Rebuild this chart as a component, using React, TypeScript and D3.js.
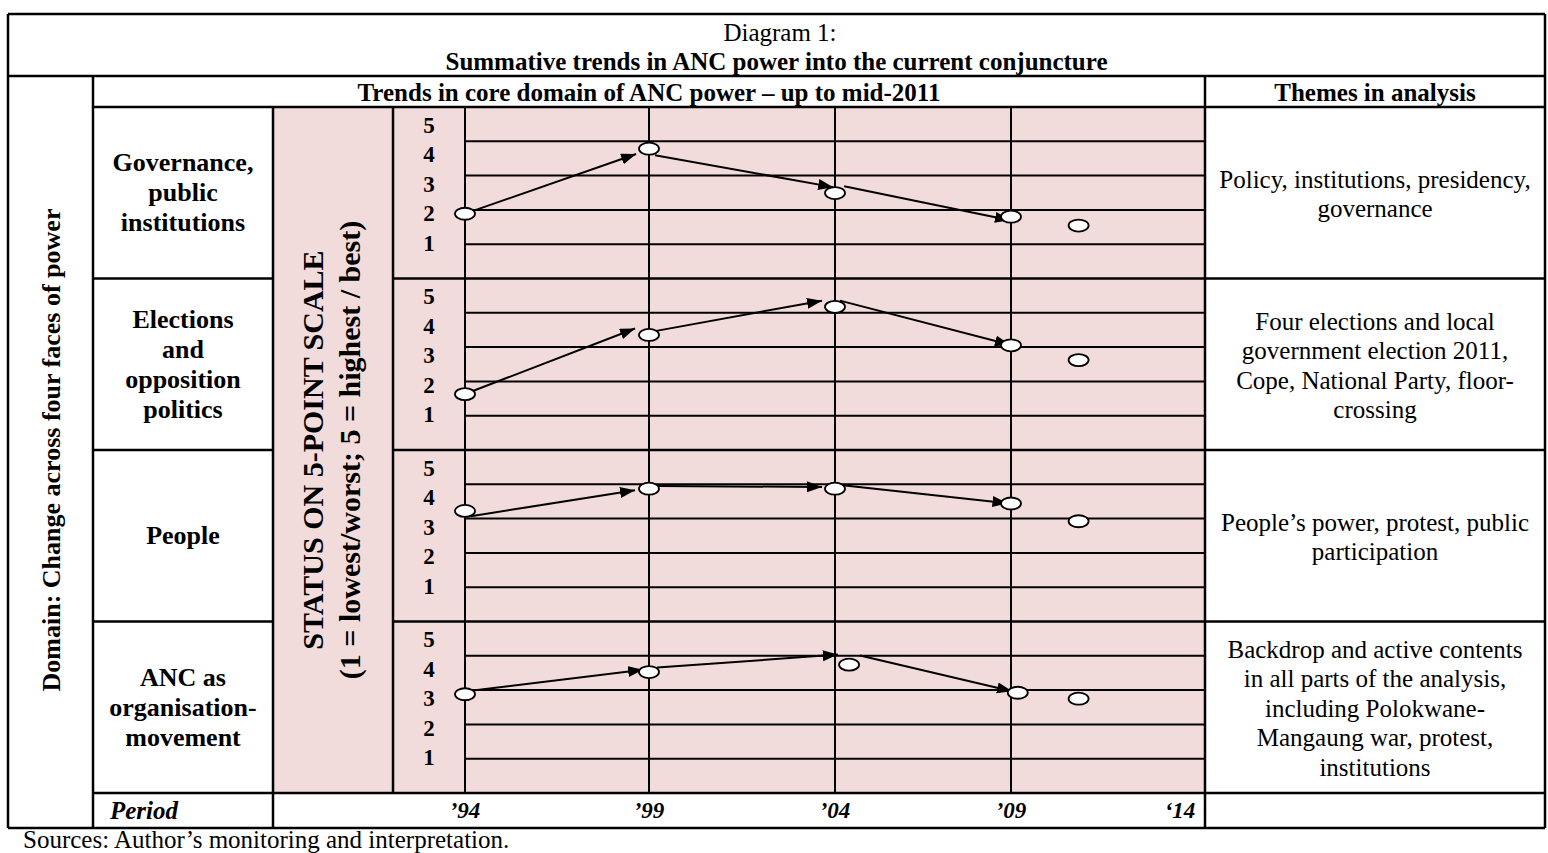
import * as d3 from "d3";

// row labels (left) and the themes column (right)
const categories = ["Governance", "Elections", "People", "ANC"];
const categoryLines = [
  ["Governance,", "public", "institutions"],
  ["Elections", "and", "opposition", "politics"],
  ["People"],
  ["ANC as", "organisation-", "movement"],
];
const themeLines = [
  ["Policy, institutions, presidency,", "governance"],
  ["Four elections and local", "government election 2011,", "Cope, National Party, floor-", "crossing"],
  ["People’s power, protest, public", "participation"],
  [
    "Backdrop and active contents",
    "in all parts of the analysis,",
    "including Polokwane-",
    "Mangaung war, protest,",
    "institutions",
  ],
];

const periodYears = [1994, 1999, 2004, 2009, 2014];
const periodLabels = ["’94", "’99", "’04", "’09", "‘14"];
const scaleTicks = [5, 4, 3, 2, 1];

// status points (year, score on 5-point scale)
const pointYears = [1994, 1999, 2004, 2009, 2011];
const ancPointYears = [1994, 1999, 2004.4, 2009.2, 2011];
const governanceScores = [2.0, 4.2, 2.7, 1.9, 1.6];
const electionScores = [1.7, 3.7, 4.65, 3.35, 2.85];
const peopleScores = [3.55, 4.3, 4.3, 3.8, 3.2];
const ancScores = [3.15, 3.9, 4.15, 3.2, 3.0];

// trend arrows: [fromYear, fromScore, toYear, toScore]
const governanceArrows = [
  [1994.18, 2.08, 1998.65, 4.02],
  [1999.16, 3.98, 2003.95, 2.9],
  [2004.26, 2.93, 2008.97, 1.78],
];
const electionArrows = [
  [1994.16, 1.78, 1998.62, 3.92],
  [1999.16, 3.83, 2003.65, 4.86],
  [2004.14, 4.86, 2008.97, 3.37],
];
const peopleArrows = [
  [1994.16, 3.37, 1998.62, 4.25],
  [1999.22, 4.39, 2003.65, 4.36],
  [2004.22, 4.42, 2008.9, 3.81],
];
const ancArrows = [
  [1994.16, 3.27, 1998.84, 3.98],
  [1999.22, 4.05, 2004.08, 4.49],
  [2004.71, 4.46, 2009.03, 3.25],
];

const FONT = "'Liberation Serif', 'Times New Roman', serif";
const PINK = "#f2dcdb";

function App() {
  const width = 1548;
  const height = 853;

  const left = 8;
  const right = 1545;
  const top = 14;
  const titleBottom = 76;
  const headBottom = 107;
  const plotBottom = 793;
  const periodBottom = 828;
  const domainCol = 93;
  const categoryCol = 273;
  const statusCol = 393;
  const plotLeft = 465;
  const plotRight = 1205;

  const panelY = d3.scaleBand().domain(categories).range([headBottom, plotBottom]);
  const bw = panelY.bandwidth();

  const x = d3
    .scaleLinear()
    .domain(periodYears)
    .range([plotLeft, 649, 835, 1011, 1180]);

  const yearsList = [pointYears, pointYears, pointYears, ancPointYears];
  const scoresList = [governanceScores, electionScores, peopleScores, ancScores];
  const arrowsList = [governanceArrows, electionArrows, peopleArrows, ancArrows];

  const panels = categories.map((c, i) => {
    const t = panelY(c)!;
    const y = d3.scaleLinear().domain([1, 5]).range([t + bw * 0.795, t + bw * 0.105]);
    return {
      key: c,
      top: t,
      y,
      lines: categoryLines[i],
      themes: themeLines[i],
      points: yearsList[i].map((yr, j) => ({ year: yr, score: scoresList[i][j] })),
      arrows: arrowsList[i],
    };
  });

  const lw = 2.5;
  const midY = (headBottom + plotBottom) / 2;

  return (
    <svg
      width={width}
      height={height}
      style={{ position: "absolute", left: 0, top: 0, background: "#fff" }}
      fontFamily={FONT}
    >
      <defs>
        <marker
          id="ah"
          markerUnits="userSpaceOnUse"
          markerWidth={16}
          markerHeight={12}
          refX={15}
          refY={5.5}
          orient="auto"
        >
          <path d="M0,0L15,5.5L0,11Z" fill="#000" />
        </marker>
      </defs>

      {/* pink backgrounds */}
      <rect x={categoryCol} y={headBottom} width={statusCol - categoryCol} height={plotBottom - headBottom} fill={PINK} />
      <rect x={statusCol} y={headBottom} width={plotRight - statusCol} height={plotBottom - headBottom} fill={PINK} />

      {/* plot grid */}
      <g stroke="#000" strokeWidth={2}>
        {panels.map((p) =>
          [1, 2, 3, 4].map((k) => (
            <line key={p.key + k} x1={plotLeft} x2={plotRight} y1={p.top + (bw * k) / 5} y2={p.top + (bw * k) / 5} />
          ))
        )}
        {periodYears.slice(0, 4).map((yr) => (
          <line key={yr} x1={x(yr)} x2={x(yr)} y1={headBottom} y2={plotBottom} />
        ))}
      </g>

      {/* table lines */}
      <g stroke="#000" strokeWidth={lw}>
        <line x1={left} x2={right} y1={top} y2={top} />
        <line x1={left} x2={right} y1={titleBottom} y2={titleBottom} />
        <line x1={domainCol} x2={right} y1={headBottom} y2={headBottom} />
        {panels.slice(1).map((p) => (
          <g key={p.key}>
            <line x1={domainCol} x2={categoryCol} y1={p.top} y2={p.top} />
            <line x1={statusCol} x2={right} y1={p.top} y2={p.top} />
          </g>
        ))}
        <line x1={domainCol} x2={right} y1={plotBottom} y2={plotBottom} />
        <line x1={left} x2={right} y1={periodBottom} y2={periodBottom} />
        <line x1={left} x2={left} y1={top} y2={periodBottom} />
        <line x1={right} x2={right} y1={top} y2={periodBottom} />
        <line x1={domainCol} x2={domainCol} y1={titleBottom} y2={periodBottom} />
        <line x1={categoryCol} x2={categoryCol} y1={headBottom} y2={periodBottom} />
        <line x1={statusCol} x2={statusCol} y1={headBottom} y2={plotBottom} />
        <line x1={plotRight} x2={plotRight} y1={titleBottom} y2={periodBottom} />
      </g>

      {/* arrows */}
      <g stroke="#000" strokeWidth={2}>
        {panels.map((p) =>
          p.arrows.map((a, i) => (
            <line
              key={p.key + "a" + i}
              x1={x(a[0])}
              y1={p.y(a[1])}
              x2={x(a[2])}
              y2={p.y(a[3])}
              markerEnd="url(#ah)"
            />
          ))
        )}
      </g>

      {/* status points */}
      <g fill="#fff" stroke="#000" strokeWidth={1.8}>
        {panels.map((p) =>
          p.points.map((d, i) => (
            <ellipse key={p.key + "p" + i} cx={x(d.year)} cy={p.y(d.score)} rx={10} ry={6} />
          ))
        )}
      </g>

      {/* header text */}
      <g textAnchor="middle" dominantBaseline="central" fill="#000">
        <text x={780} y={32} fontSize={25}>
          Diagram 1:
        </text>
        <text x={(left + right) / 2} y={61} fontSize={25} fontWeight="bold">
          Summative trends in ANC power into the current conjuncture
        </text>
        <text x={(domainCol + plotRight) / 2} y={92} fontSize={25} fontWeight="bold">
          Trends in core domain of ANC power – up to mid-2011
        </text>
        <text x={(plotRight + right) / 2} y={92} fontSize={25} fontWeight="bold">
          Themes in analysis
        </text>
      </g>

      {/* rotated labels */}
      <g textAnchor="middle" dominantBaseline="central" fontWeight="bold" fill="#000">
        <text transform={`translate(${(left + domainCol) / 2 + 0.5},${midY}) rotate(-90)`} fontSize={26}>
          Domain: Change across four faces of power
        </text>
        <text transform={`translate(312,${midY}) rotate(-90)`} fontSize={30}>
          STATUS ON 5-POINT SCALE
        </text>
        <text transform={`translate(349,${midY}) rotate(-90)`} fontSize={30}>
          (1 = lowest/worst; 5 = highest / best)
        </text>
      </g>

      {/* per-panel text */}
      <g textAnchor="middle" dominantBaseline="central" fill="#000">
        {panels.map((p) => {
          const mid = p.top + bw / 2;
          return (
            <g key={p.key}>
              {p.lines.map((l, i) => (
                <text
                  key={l}
                  x={(domainCol + categoryCol) / 2}
                  y={mid + (i - (p.lines.length - 1) / 2) * 30}
                  fontSize={26}
                  fontWeight="bold"
                >
                  {l}
                </text>
              ))}
              {p.themes.map((l, i) => (
                <text
                  key={l}
                  x={(plotRight + right) / 2}
                  y={mid + 1 + (i - (p.themes.length - 1) / 2) * 29.5}
                  fontSize={25}
                >
                  {l}
                </text>
              ))}
              {scaleTicks.map((t) => (
                <text key={t} x={(statusCol + plotLeft) / 2} y={p.y(t)} fontSize={23} fontWeight="bold">
                  {t}
                </text>
              ))}
            </g>
          );
        })}
      </g>

      {/* period row */}
      <g dominantBaseline="central" fontWeight="bold" fontStyle="italic" fill="#000">
        <text x={110} y={(plotBottom + periodBottom) / 2} fontSize={25}>
          Period
        </text>
        {periodYears.map((yr, i) => (
          <text key={yr} x={x(yr)} y={(plotBottom + periodBottom) / 2} fontSize={23} textAnchor="middle">
            {periodLabels[i]}
          </text>
        ))}
      </g>

      <text x={23} y={839} fontSize={25} dominantBaseline="central" fill="#000">
        Sources: Author’s monitoring and interpretation.
      </text>
    </svg>
  );
}

export default App;
